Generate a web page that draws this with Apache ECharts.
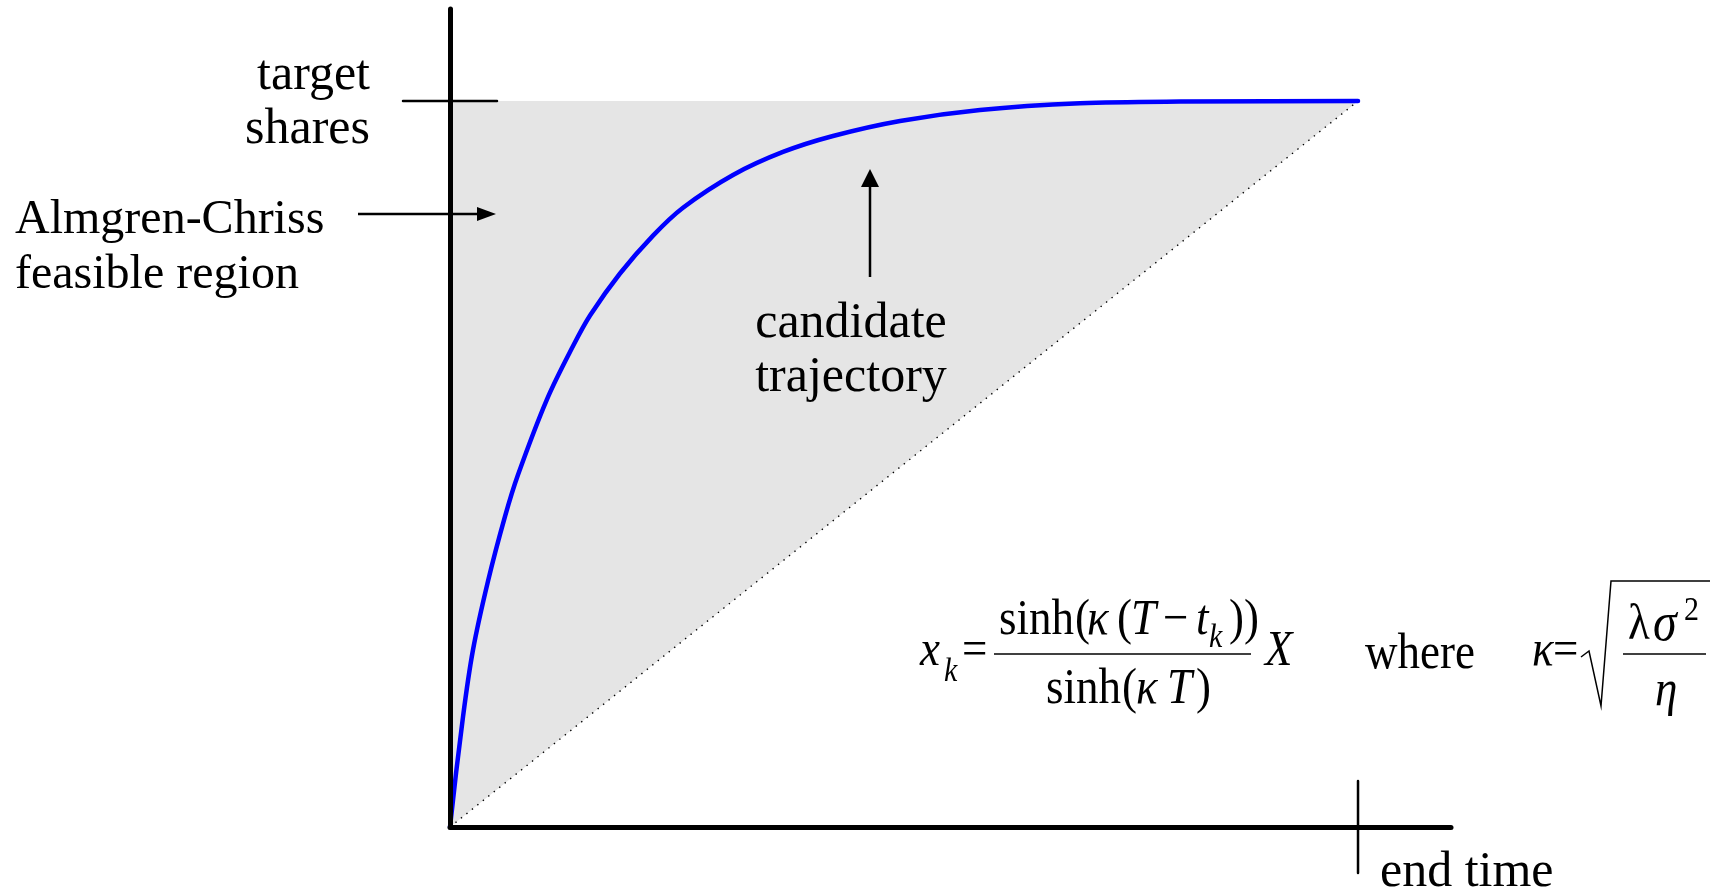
<!DOCTYPE html>
<html>
<head>
<meta charset="utf-8">
<script src="https://cdn.jsdelivr.net/npm/echarts@6/dist/echarts.min.js"></script>
<style>
  html, body { margin: 0; padding: 0; background: #ffffff; }
  #chart { width: 1717px; height: 890px; }
</style>
</head>
<body>
<div id="chart"></div>
<script>
// Execution trajectory: time as a fraction of the horizon T, shares as a fraction of X
const trajectoryTime   = [0, 0.0143, 0.0253, 0.0419, 0.0606, 0.0749, 0.1068, 0.1355, 0.1542, 0.1872, 0.2236,
                          0.2566, 0.3117, 0.3667, 0.4218, 0.4956, 0.5837, 0.6938, 0.8040, 1];
const trajectoryShares = [0, 0.1515, 0.2438, 0.3388, 0.4278, 0.4851, 0.5890, 0.6624, 0.7045, 0.7624, 0.8146,
                          0.8530, 0.8981, 0.9298, 0.9518, 0.9725, 0.9876, 0.9968, 0.9992, 1];

// Feasible region corners (origin, target on the share axis, target at end time)
const regionTime   = [0, 0, 1];
const regionShares = [0, 1, 1];

// Reference levels
const targetShares = 1;
const endTime = 1;

// Axis extents (axes run past the target / end time)
const timeAxisMax = 1.1024;
const shareAxisMax = 1.1267;

const chart = echarts.init(document.getElementById('chart'), null, { renderer: 'canvas' });

const SERIF = '"Liberation Serif", "Times New Roman", serif';

function txt(text, x, y, opts) {
  return {
    type: 'text',
    x: x, y: y, z: 20,
    silent: true,
    style: Object.assign({
      text: text,
      fontFamily: SERIF,
      fontSize: 50,
      fill: '#000',
      align: 'left',
      verticalAlign: 'middle'
    }, opts || {})
  };
}

// Chord-length cubic spline path through pixel points
function splinePath(pts) {
  const n = pts.length;
  const dist = [];
  for (let i = 0; i < n - 1; i++) {
    dist.push(Math.hypot(pts[i + 1][0] - pts[i][0], pts[i + 1][1] - pts[i][1]));
  }
  const tan = new Array(n);
  for (let i = 1; i < n - 1; i++) {
    const s = dist[i - 1] + dist[i];
    tan[i] = [(pts[i + 1][0] - pts[i - 1][0]) / s, (pts[i + 1][1] - pts[i - 1][1]) / s];
  }
  // natural-style end tangents
  const c0 = [(pts[1][0] - pts[0][0]) / dist[0], (pts[1][1] - pts[0][1]) / dist[0]];
  tan[0] = [2 * c0[0] - tan[1][0], 2 * c0[1] - tan[1][1]];
  const last = n - 1;
  const cl = [(pts[last][0] - pts[last - 1][0]) / dist[last - 1], (pts[last][1] - pts[last - 1][1]) / dist[last - 1]];
  tan[last] = [2 * cl[0] - tan[last - 1][0], 2 * cl[1] - tan[last - 1][1]];
  let path = 'M' + pts[0][0] + ',' + pts[0][1];
  for (let i = 0; i < n - 1; i++) {
    const h = dist[i] / 3;
    path += ' C' + (pts[i][0] + tan[i][0] * h) + ',' + (pts[i][1] + tan[i][1] * h) + ' ' +
            (pts[i + 1][0] - tan[i + 1][0] * h) + ',' + (pts[i + 1][1] - tan[i + 1][1] * h) + ' ' +
            pts[i + 1][0] + ',' + pts[i + 1][1];
  }
  return path;
}

// formula pieces inside a vertically stretched group centred on y = 655
const FS = 45;
const SCALE_Y = 1.13;
function ry(y) { return (y - 655) / SCALE_Y; }
function ftxt(text, x, y, italic, size) {
  return {
    type: 'text', x: x, y: ry(y), silent: true,
    style: {
      text: text, fontFamily: SERIF, fontSize: size || FS,
      fontStyle: italic ? 'italic' : 'normal',
      fill: '#000', align: 'left', verticalAlign: 'middle'
    }
  };
}

const formula = {
  type: 'group', x: 0, y: 655, scaleY: SCALE_Y, silent: true, z: 20,
  children: [
    ftxt('x', 920, 652, true),
    ftxt('k', 944, 672, true, 30),
    ftxt('=', 962, 652, false),
    // numerator
    ftxt('sinh', 999, 621, false),
    ftxt('(', 1075, 621, false),
    ftxt('κ', 1087, 621, true),
    ftxt('(', 1117, 621, false),
    ftxt('T', 1131, 621, true),
    ftxt('−', 1163, 621, false),
    ftxt('t', 1196, 621, true),
    ftxt('k', 1209, 638, true, 30),
    ftxt('))', 1229, 621, false),
    // denominator
    ftxt('sinh', 1046, 690, false),
    ftxt('(', 1122, 690, false),
    ftxt('κ', 1136, 690, true),
    ftxt('T', 1167, 690, true),
    ftxt(')', 1196, 690, false),
    ftxt('X', 1265, 652, true),
    ftxt('where', 1365, 655, false),
    ftxt('κ', 1532, 652, true),
    ftxt('=', 1553, 652, false),
    ftxt('λ', 1628, 626, false),
    ftxt('σ', 1653, 626, true, 48),
    ftxt('2', 1684, 611, false, 30),
    ftxt('η', 1655, 692, true)
  ]
};

const option = {
  animation: false,
  backgroundColor: '#ffffff',
  grid: { left: 450, right: 266, top: 9, bottom: 63, containLabel: false },
  xAxis: {
    type: 'value', min: 0, max: timeAxisMax, z: 6,
    axisLine: { show: true, onZero: false, lineStyle: { color: '#000', width: 5, cap: 'round' } },
    axisTick: { show: false }, axisLabel: { show: false }, splitLine: { show: false }
  },
  yAxis: {
    type: 'value', min: 0, max: shareAxisMax, z: 6,
    axisLine: { show: true, onZero: false, lineStyle: { color: '#000', width: 5, cap: 'round' } },
    axisTick: { show: false }, axisLabel: { show: false }, splitLine: { show: false }
  },
  series: [
    {
      // shaded feasible region
      type: 'custom', z: 1, clip: false,
      data: [[regionTime[0], regionShares[0]]],
      renderItem: function (params, api) {
        const pts = regionTime.map((t, i) => api.coord([t, regionShares[i]]));
        return { type: 'polygon', shape: { points: pts }, style: { fill: '#e5e5e5' } };
      }
    },
    {
      // linear (TWAP) diagonal
      type: 'line', z: 2, symbol: 'none', silent: true,
      data: [[0, 0], [endTime, targetShares]],
      lineStyle: { color: '#000', width: 1.4, type: [1.4, 5.6] }
    },
    {
      // candidate trajectory, a smooth curve through the sampled points
      type: 'custom', z: 3, clip: false, silent: true,
      data: [[trajectoryTime[0], trajectoryShares[0]]],
      renderItem: function (params, api) {
        const pts = trajectoryTime.map((t, i) => api.coord([t, trajectoryShares[i]]));
        return {
          type: 'path',
          shape: { pathData: splinePath(pts) },
          style: { stroke: '#0000ff', lineWidth: 4.5, fill: null, lineCap: 'round', lineJoin: 'round' }
        };
      }
    },
    {
      // ticks marking target shares and end time
      type: 'custom', z: 7, clip: false,
      data: [[0, targetShares]],
      renderItem: function (params, api) {
        const t = api.coord([0, targetShares]);
        const e = api.coord([endTime, 0]);
        return {
          type: 'group',
          children: [
            { type: 'line', shape: { x1: t[0] - 47, y1: t[1], x2: t[0] + 47, y2: t[1] },
              style: { stroke: '#000', lineWidth: 2.5, lineCap: 'round' } },
            { type: 'line', shape: { x1: e[0], y1: e[1] - 46, x2: e[0], y2: e[1] + 46 },
              style: { stroke: '#000', lineWidth: 2.5, lineCap: 'round' } }
          ]
        };
      }
    }
  ],
  graphic: [
    txt('target\nshares', 370, 103, { align: 'right', lineHeight: 54 }),
    txt('Almgren-Chriss\nfeasible region', 15, 248, { align: 'left', lineHeight: 55, fontSize: 48 }),
    txt('candidate\ntrajectory', 851, 351, { align: 'center', lineHeight: 54 }),
    txt('end time', 1380, 873, { align: 'left' }),
    // arrow towards the feasible region
    { type: 'line', silent: true, z: 20, shape: { x1: 358, y1: 214, x2: 480, y2: 214 },
      style: { stroke: '#000', lineWidth: 2.5 } },
    { type: 'polygon', silent: true, z: 20, shape: { points: [[496, 214], [477, 207], [477, 221]] },
      style: { fill: '#000' } },
    // arrow towards the trajectory
    { type: 'line', silent: true, z: 20, shape: { x1: 870, y1: 277, x2: 870, y2: 184 },
      style: { stroke: '#000', lineWidth: 2.5 } },
    { type: 'polygon', silent: true, z: 20, shape: { points: [[870, 169], [861, 187], [879, 187]] },
      style: { fill: '#000' } },
    // fraction bars and radical
    { type: 'line', silent: true, z: 20, shape: { x1: 994, y1: 654, x2: 1251, y2: 654 },
      style: { stroke: '#000', lineWidth: 1.5 } },
    { type: 'line', silent: true, z: 20, shape: { x1: 1623, y1: 654, x2: 1706, y2: 654 },
      style: { stroke: '#000', lineWidth: 1.5 } },
    { type: 'polyline', silent: true, z: 20,
      shape: { points: [[1581, 657], [1589, 651], [1601, 706], [1611, 581], [1710, 581]] },
      style: { stroke: '#000', lineWidth: 1.5, fill: null } },
    formula
  ]
};

chart.setOption(option);
</script>
</body>
</html>
